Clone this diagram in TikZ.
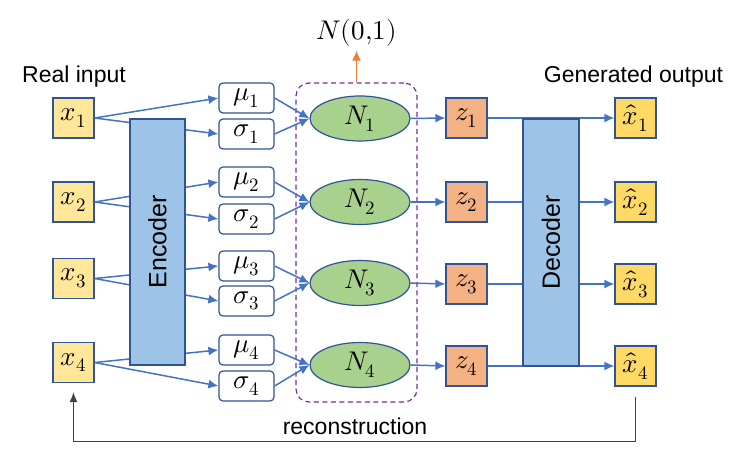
\documentclass[tikz,border=0pt]{standalone}
\usepackage{unicode-math}
\usetikzlibrary{shapes.geometric,arrows.meta}
\setmainfont{Liberation Sans}
\setmathfont{Latin Modern Math}
\definecolor{linkblue}{RGB}{68,114,196}
\definecolor{edgeblue}{RGB}{47,85,151}
\definecolor{inyellow}{RGB}{255,230,153}
\definecolor{outyellow}{RGB}{255,217,102}
\definecolor{codeblue}{RGB}{157,195,230}
\definecolor{latgreen}{RGB}{169,209,142}
\definecolor{zorange}{RGB}{244,177,131}
\definecolor{latpurple}{RGB}{112,48,160}
\definecolor{stdorange}{RGB}{237,125,49}
\newcommand{\lblfont}{\fontsize{23}{27}\selectfont}
\newcommand{\mathfont}{\fontsize{27}{32}\selectfont}
\begin{document}
\begin{tikzpicture}[x=1pt,y=-1pt,every node/.style={inner sep=0pt}]
\tikzstyle{arrow}=[draw=linkblue,line width=1.5pt,-{Latex[length=10pt,width=9pt]}]
\tikzstyle{sqbox}=[draw=edgeblue,line width=1.2pt,minimum width=41pt,minimum height=40pt,font=\mathfont]
\tikzstyle{parbox}=[draw=edgeblue,line width=1.2pt,fill=white,rounded corners=4pt,minimum width=55pt,minimum height=30pt,font=\mathfont]
\tikzstyle{latnode}=[draw=edgeblue,line width=1.2pt,fill=latgreen,ellipse,minimum width=100pt,minimum height=45pt,font=\mathfont]
\tikzstyle{coder}=[draw=edgeblue,line width=1.2pt,fill=codeblue,minimum width=55pt,minimum height=246pt]
\useasboundingbox (0,0) rectangle (748,457);

% inputs
\node[sqbox,fill=inyellow](x1) at (73.5,118){$x_1$};
\node[sqbox,fill=inyellow](x2) at (73.5,202){$x_2$};
\node[sqbox,fill=inyellow](x3) at (73.5,278.5){$x_3$};
\node[sqbox,fill=inyellow](x4) at (73.5,362.5){$x_4$};
\node[font=\lblfont,anchor=base](inlbl) at (74,82.5){Real input};

% mean and deviation
\node[parbox](mu1) at (246.5,98){$\mu_1$};
\node[parbox](sg1) at (246.5,134){$\sigma_1$};
\node[parbox](mu2) at (246.5,182){$\mu_2$};
\node[parbox](sg2) at (246.5,219){$\sigma_2$};
\node[parbox](mu3) at (246.5,266){$\mu_3$};
\node[parbox](sg3) at (246.5,301){$\sigma_3$};
\node[parbox](mu4) at (246.5,350){$\mu_4$};
\node[parbox](sg4) at (246.5,386){$\sigma_4$};

\draw[arrow] (x1.east) -- (mu1.west);
\draw[arrow] (x1.east) -- (sg1.west);
\draw[arrow] (x2.east) -- (mu2.west);
\draw[arrow] (x2.east) -- (sg2.west);
\draw[arrow] (x3.east) -- (mu3.west);
\draw[arrow] (x3.east) -- (sg3.west);
\draw[arrow] (x4.east) -- (mu4.west);
\draw[arrow] (x4.east) -- (sg4.west);

\node[coder](enc) at (157.5,242){};
\node[rotate=90,font=\fontsize{25}{30}\selectfont] at (enc.center){Encoder};

% latent space
\node[draw=latpurple,line width=1.2pt,dash pattern=on 5pt off 3.5pt,rounded corners=13pt,minimum width=121pt,minimum height=319pt](lat) at (356.5,242.5){};
\node[font=\mathfont](std) at (356.5,33){$N(0{,}1)$};
\draw[draw=stdorange,line width=1.5pt,-{Latex[length=10pt,width=9pt]},shorten >=4pt] (lat.north) -- (std.south);

\node[latnode](n1) at (360,118.5){$N_1$};
\node[latnode](n2) at (360,202){$N_2$};
\node[latnode](n3) at (360,283){$N_3$};
\node[latnode](n4) at (360,365){$N_4$};

\draw[arrow] (mu1.east) -- (n1.west);
\draw[arrow] (sg1.east) -- (n1.west);
\draw[arrow] (mu2.east) -- (n2.west);
\draw[arrow] (sg2.east) -- (n2.west);
\draw[arrow] (mu3.east) -- (n3.west);
\draw[arrow] (sg3.east) -- (n3.west);
\draw[arrow] (mu4.east) -- (n4.west);
\draw[arrow] (sg4.east) -- (n4.west);

% samples
\node[sqbox,fill=zorange](z1) at (466.5,118){$z_1$};
\node[sqbox,fill=zorange](z2) at (466.5,202){$z_2$};
\node[sqbox,fill=zorange](z3) at (466.5,284){$z_3$};
\node[sqbox,fill=zorange](z4) at (466.5,366){$z_4$};

\draw[arrow] (n1.east) -- (z1.west);
\draw[arrow] (n2.east) -- (z2.west);
\draw[arrow] (n3.east) -- (z3.west);
\draw[arrow] (n4.east) -- (z4.west);

% outputs
\node[sqbox,fill=outyellow](xh1) at (635.5,118){$\hat{x}_1$};
\node[sqbox,fill=outyellow](xh2) at (635.5,202){$\hat{x}_2$};
\node[sqbox,fill=outyellow](xh3) at (635.5,284){$\hat{x}_3$};
\node[sqbox,fill=outyellow](xh4) at (635.5,366){$\hat{x}_4$};
\node[font=\lblfont,anchor=base](outlbl) at (633.5,83){Generated output};

\draw[arrow] (z1.east) -- (xh1.west);
\draw[arrow] (z2.east) -- (xh2.west);
\draw[arrow] (z3.east) -- (xh3.west);
\draw[arrow] (z4.east) -- (xh4.west);

\node[coder,minimum width=56pt,minimum height=247pt](dec) at (551,242.5){};
\node[rotate=90,font=\fontsize{25}{30}\selectfont] at (dec.center){Decoder};

% reconstruction loop
\draw[draw=black!75,line width=1.4pt,-{Latex[length=10pt,width=8pt]},shorten <=10pt,shorten >=9pt] (xh4.south) -- ++(0,55) -| (x4.south);
\node[font=\lblfont,anchor=base](rec) at (355,435){reconstruction};
\end{tikzpicture}
\end{document}
